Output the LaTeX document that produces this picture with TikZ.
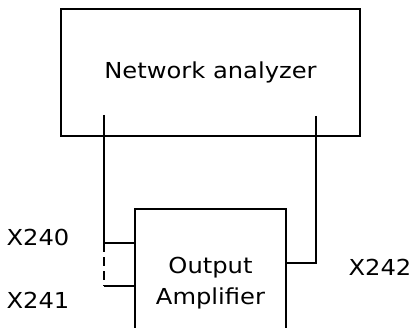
\documentclass[tikz,border=0pt]{standalone}
\usepackage{fontspec}
\setmainfont{DejaVu Sans}[FakeStretch=1.1]
\usetikzlibrary{positioning,calc}

\begin{document}
\begin{tikzpicture}[
        x=1pt,y=1pt,
        line width=1.6pt,
        blk/.style={draw,line width=1.6pt,font=\fontsize{22}{31}\selectfont,align=center,inner sep=0pt},
        lbl/.style={font=\fontsize{22}{24}\selectfont,inner sep=0pt}
      ]
      \useasboundingbox (0,0) rectangle (414,327);
      \node[blk,minimum width=299pt,minimum height=127pt] (na) at (210.5,254.5) {Network analyzer};
      \node[blk,minimum width=151pt,minimum height=148pt] (amp) at (210.5,44) {Output\\Amplifier};

      \coordinate (pin) at (104,212);
      \coordinate (pout) at (316,211);
      \coordinate (j240) at (104,84);
      \coordinate (j241) at (104,41);
      \coordinate (j242) at (316,64);

      \draw (pin) -- (j240) -- (amp.west |- j240);
      \draw[dash pattern=on 9pt off 5pt] (j240) -- (j241);
      \draw (j241) -- (amp.west |- j241);
      \draw (pout) -- (j242) -- (amp.east |- j242);

      \node[lbl] (x240) at (38,90) {X240};
      \node[lbl] (x241) at (38,27) {X241};
      \node[lbl] (x242) at (380,60) {X242};
    \end{tikzpicture}
\end{document}
